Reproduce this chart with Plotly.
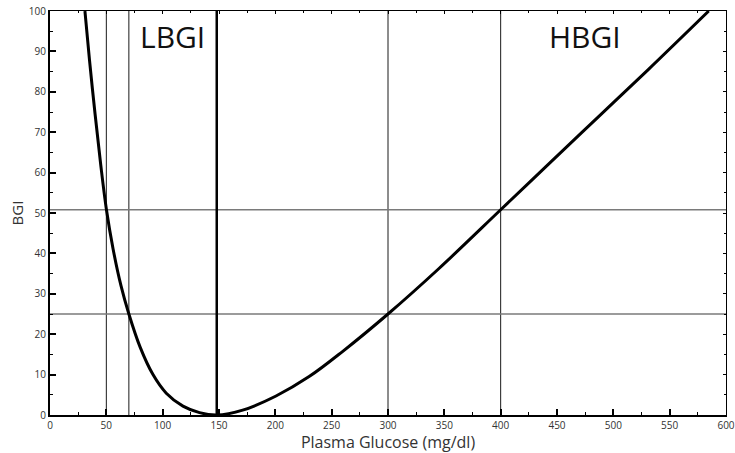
import plotly.graph_objects as go

# Blood glucose risk curve (BGI vs plasma glucose)
glucose = [31, 35, 40, 45, 50, 56, 63, 70, 80, 91.4, 103.2, 118, 132.7,
           148, 171, 200.6, 230, 259.6, 300, 345, 400, 442.5, 486.7, 531,
           584.7]
bgi = [100, 88, 74.5, 62, 51, 41.1, 32, 25, 16.8, 10, 5.4, 2.2, 0.6,
       0, 1.2, 4.7, 9.5, 15.7, 25, 36.2, 50.8, 62.1, 73.8, 85.5,
       100]

# Reference guide lines
thin_vlines = [50, 70, 300, 400]
split_vline = 148
hlines = [50.8, 25]

# Region labels
region_labels = ["LBGI", "HBGI"]
region_x = [109, 475]
region_y = [93.7, 93.7]

x_ticks = list(range(0, 601, 50))
y_ticks = list(range(0, 101, 10))

FONT = "Open Sans"

fig = go.Figure()

for xv in thin_vlines:
    fig.add_shape(type="line", x0=xv, x1=xv, y0=0, y1=100, xref="x", yref="y",
                  line=dict(color="#1a1a1a", width=1), layer="below")
for yv in hlines:
    fig.add_shape(type="line", x0=0, x1=600, y0=yv, y1=yv, xref="x", yref="y",
                  line=dict(color="#7a7a7a", width=1.5), layer="below")
fig.add_shape(type="line", x0=split_vline, x1=split_vline, y0=0, y1=100,
              xref="x", yref="y", line=dict(color="black", width=2.5))

fig.add_trace(go.Scatter(x=glucose, y=bgi, mode="lines",
                         line=dict(color="black", width=3, shape="spline",
                                   smoothing=1.0),
                         showlegend=False, cliponaxis=True))

for txt, xv, yv in zip(region_labels, region_x, region_y):
    fig.add_annotation(x=xv, y=yv, text=txt, showarrow=False,
                       font=dict(family=FONT, size=30, color="#111"))

# Invisible trace to carry the mirrored top/right axes
fig.add_trace(go.Scatter(x=[None], y=[None], xaxis="x2", yaxis="y2",
                         showlegend=False, hoverinfo="skip"))

fig.update_layout(
    width=735, height=453,
    margin=dict(l=50, r=9, t=11, b=38, autoexpand=False),
    paper_bgcolor="white", plot_bgcolor="white",
    font=dict(family=FONT, color="#333"),
    xaxis=dict(range=[0, 600], tickvals=x_ticks, ticks="inside", ticklen=6,
               tickwidth=1.5, tickcolor="black", ticklabeloverflow="allow",
               automargin=False,
               minor=dict(dtick=25, ticks="inside", ticklen=3,
                          tickcolor="black", tickwidth=1),
               showgrid=False, zeroline=False, showline=True,
               linecolor="black", linewidth=2,
               tickfont=dict(size=10, color="#333"),
               title=dict(text="Plasma Glucose (mg/dl)", standoff=6,
                          font=dict(size=16, color="#333"))),
    yaxis=dict(range=[0, 100], tickvals=y_ticks, ticks="inside", ticklen=6,
               tickwidth=1.5, tickcolor="black", ticklabeloverflow="allow",
               automargin=False,
               minor=dict(dtick=5, ticks="inside", ticklen=3,
                          tickcolor="black", tickwidth=1),
               showgrid=False, zeroline=False, showline=True,
               linecolor="black", linewidth=2,
               tickfont=dict(size=10, color="#333"),
               title=dict(text="BGI", standoff=2,
                          font=dict(size=15, color="#333"))),
    xaxis2=dict(range=[0, 600], overlaying="x", side="top", tickvals=x_ticks,
                ticks="inside", ticklen=3, tickcolor="black",
                minor=dict(dtick=25, ticks="inside", ticklen=2,
                           tickcolor="black"),
                showticklabels=False, showgrid=False, zeroline=False,
                showline=True, linecolor="black", linewidth=1,
                automargin=False),
    yaxis2=dict(range=[0, 100], overlaying="y", side="right",
                tickvals=y_ticks, ticks="inside", ticklen=3,
                tickcolor="black",
                minor=dict(dtick=5, ticks="inside", ticklen=2,
                           tickcolor="black"),
                showticklabels=False, showgrid=False, zeroline=False,
                showline=True, linecolor="black", linewidth=1,
                automargin=False),
)

fig.write_html("out.html")
